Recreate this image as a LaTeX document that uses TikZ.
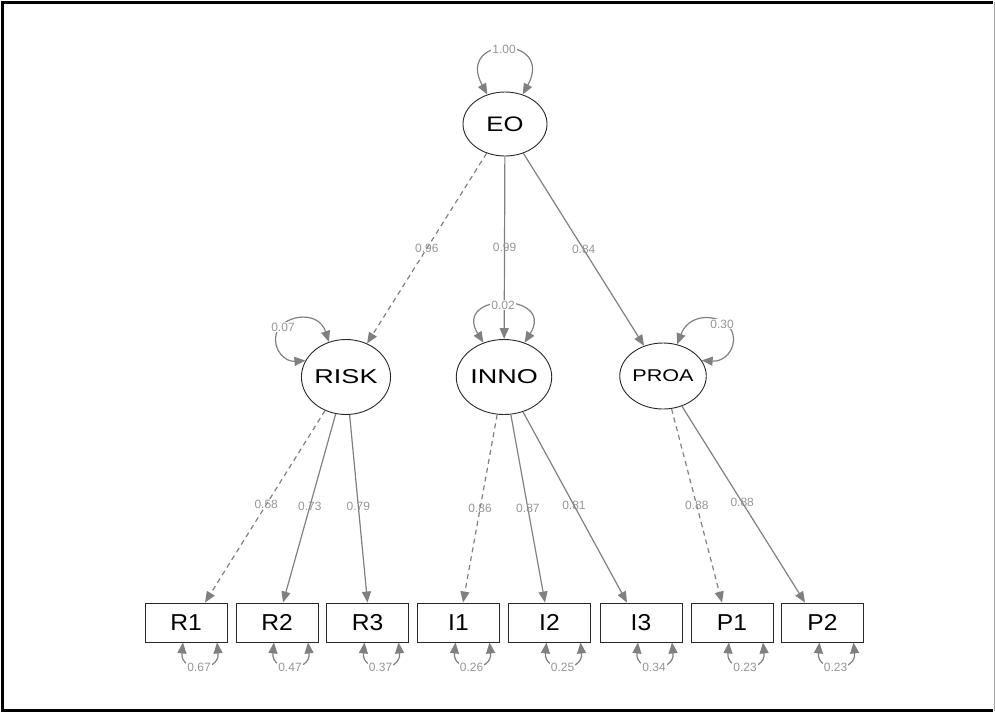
\documentclass[tikz,border=0pt]{standalone}
\usepackage{fontspec}
\setmainfont{Liberation Sans}
\usetikzlibrary{shapes.geometric,arrows.meta,calc}
\definecolor{edgegray}{RGB}{128,128,128}
\definecolor{lblgray}{RGB}{150,150,150}
\definecolor{rimgray}{RGB}{40,40,40}
\begin{document}
\begin{tikzpicture}[x=1pt,y=-1pt,
  lat/.style={ellipse, draw=rimgray, line width=0.9pt, inner sep=0pt, fill=white},
  obs/.style={rectangle, draw=rimgray, line width=0.9pt, minimum width=82pt,
    minimum height=39pt, inner sep=0pt, fill=white,
    font=\fontsize{23}{23}\selectfont},
  reg/.style={draw=edgegray, line width=1.2pt, -{Triangle[length=11pt,width=9pt]}},
  regd/.style={reg, dash pattern=on 5pt off 4pt},
  varloop/.style={draw=edgegray, line width=1.2pt,
    {Triangle[length=11pt,width=9pt]}-{Triangle[length=11pt,width=9pt]}},
  est/.style={text=lblgray, font=\fontsize{12}{12}\selectfont, inner sep=1pt},
  estbg/.style={est, fill=white}]

\useasboundingbox (0,0) rectangle (995,713);
% frame
\draw[black, line width=2.2pt] (993,2.5) -- (2.5,2.5) -- (2.5,710.5) -- (993,710.5);
\draw[black!35, line width=0.8pt] (994,2) -- (994,711);

% latent variables
\node[lat, minimum width=84pt, minimum height=64pt,
  font=\fontsize{21}{21}\selectfont] (EO) at (505,124) {\scalebox{1.22}[1]{EO}};
\node[lat, minimum width=82pt, minimum height=75pt,
  font=\fontsize{20}{20}\selectfont] (RISK) at (346,377) {\scalebox{1.35}[1]{RISK}};
\node[lat, minimum width=82pt, minimum height=75pt,
  font=\fontsize{20}{20}\selectfont] (INNO) at (504,377) {\scalebox{1.35}[1]{INNO}};
\node[lat, minimum width=81pt, minimum height=66pt,
  font=\fontsize{17}{17}\selectfont] (PROA) at (663,376) {\scalebox{1.27}[1]{PROA}};

% indicators
\foreach \nm/\cx in {R1/186,R2/277,R3/367.5,I1/458.5,I2/549.5,I3/641,P1/732,P2/822.5}
  \node[obs] (\nm) at (\cx,622.5) {\scalebox{1.07}[1]{\nm}};

% second-order loadings
\draw[regd] (EO) -- (RISK) node[est, pos=0.5] {0.96};
\draw[reg] (EO) -- (INNO) node[est, pos=0.5] {0.99};
\draw[reg] (EO) -- (PROA) node[est, pos=0.5] {0.84};

% first-order loadings
\draw[regd] (RISK) -- ([xshift=19pt]R1.north) node[est, pos=0.49] {0.58};
\draw[reg] (RISK) -- ([xshift=6pt]R2.north) node[est, pos=0.49] {0.73};
\draw[reg] (RISK) -- ([xshift=0pt]R3.north) node[est, pos=0.49] {0.79};
\draw[regd] (INNO) -- ([xshift=4.5pt]I1.north) node[est, pos=0.5] {0.86};
\draw[reg] (INNO) -- ([xshift=-4.5pt]I2.north) node[est, pos=0.5] {0.87};
\draw[reg] (INNO) -- ([xshift=-14pt]I3.north) node[est, pos=0.49] {0.81};
\draw[regd] (PROA) -- ([xshift=-10pt]P1.north) node[est, pos=0.5] {0.88};
\draw[reg] (PROA) -- ([xshift=-17.5pt]P2.north) node[est, pos=0.49] {0.88};

% latent variances
\draw[varloop] (EO.121) .. controls (455,35) and (555,35) .. (EO.59);
\node[estbg] (vEO) at (504,49) {1.00};

\draw[varloop] (RISK.158) .. controls (285,362) and (273,350) .. (276,335)
  .. controls (279,316) and (318,308) .. (RISK.116);
\node[estbg] (vRISK) at (283,327) {0.07};

\draw[varloop] (INNO.121) .. controls (452,292) and (556,292) .. (INNO.59);
\node[estbg] (vINNO) at (503,305) {0.02};

\draw[varloop] (PROA.22) .. controls (724,362) and (736,350) .. (733,335)
  .. controls (730,316) and (691,308) .. (PROA.66);
\node[estbg] (vPROA) at (722,324) {0.30};

% residual variances of indicators
\foreach \nm/\v in {R1/0.67,R2/0.47,R3/0.37,I1/0.26,I2/0.25,I3/0.34,P1/0.23,P2/0.23}{
  \draw[varloop] ([xshift=-3pt]\nm.south) .. controls ($(\nm.south)+(-6,30)$)
    and ($(\nm.south)+(34,30)$) .. ([xshift=31pt]\nm.south);
  \node[estbg] (v\nm) at ($(\nm.south)+(13,25)$) {\v};
}
\end{tikzpicture}
\end{document}
